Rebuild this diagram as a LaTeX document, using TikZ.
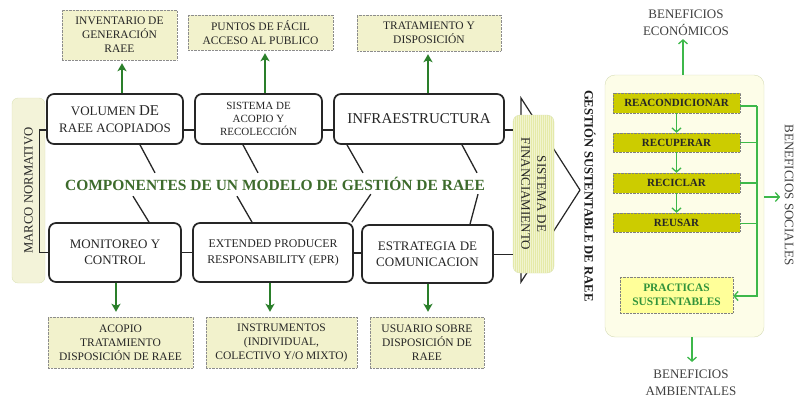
\documentclass[tikz,border=0pt]{standalone}
\usepackage{fontspec}
\setmainfont{Liberation Serif}
\usetikzlibrary{arrows.meta,calc}
\definecolor{ybox}{HTML}{F2F2CC}
\definecolor{txt}{HTML}{262626}
\definecolor{dgreen}{HTML}{2A7F2A}
\definecolor{tgreen}{HTML}{3D6B2C}
\definecolor{lgreen}{HTML}{3DB84A}
\definecolor{oliv}{HTML}{CCCC00}
\definecolor{pyel}{HTML}{FFFF99}
\definecolor{marco}{HTML}{F3F3D9}
\definecolor{marcob}{HTML}{DCE3B8}
\definecolor{fin}{HTML}{E5EAA8}
\definecolor{rbox}{HTML}{FDFDE8}
\definecolor{rboxb}{HTML}{D5DBB5}
\begin{document}
\begin{tikzpicture}[x=1pt,y=-1pt]
\tikzset{
 topbox/.style={draw=black!45, densely dotted, fill=ybox, align=center, inner sep=0pt, text=txt, font=\fontsize{11.5}{14}\selectfont},
 mainbox/.style={draw=black!85, line width=1.7pt, rounded corners=7pt, fill=white, align=center, inner sep=0pt, text=txt},
 garrow/.style={draw=dgreen, line width=1.8pt, -{Stealth[length=8pt,width=9pt,inset=2pt]}},
 larrow/.style={draw=lgreen, line width=1.3pt, -{Straight Barb[length=4pt,width=9pt]}},
 link/.style={draw=black!85, line width=1.3pt},
 olivebox/.style={draw=black!50, densely dotted, fill=oliv, font=\bfseries\fontsize{11}{12}\selectfont, text=black!85, inner sep=0pt, minimum width=127, minimum height=20},
 benef/.style={align=center, text=black!75, font=\fontsize{13}{17}\selectfont, inner sep=0pt},
}
\useasboundingbox (0,0) rectangle (797,400);

% chevron behind financing box
\draw[link, line width=1.2pt] (521,98) coordinate (c1) -- (580,190) coordinate (c2) -- (521,282) coordinate (c3) -- cycle;

% right big box
\node[draw=rboxb, fill=rbox, rounded corners=10pt, minimum width=159, minimum height=262, inner sep=0pt] (RB) at (684.5,206) {};

% top boxes
\node[topbox, minimum width=115, minimum height=50] (T1) at (119.5,35) {INVENTARIO DE\\GENERACIÓN\\RAEE};
\node[topbox, minimum width=145, minimum height=35] (T2) at (260.5,32.5) {PUNTOS DE FÁCIL\\ACCESO AL PUBLICO};
\node[topbox, minimum width=144, minimum height=36] (T3) at (429,33) {TRATAMIENTO Y\\DISPOSICIÓN};

% bottom boxes
\node[topbox, minimum width=145, minimum height=51] (G) at (120.5,342.5) {ACOPIO\\TRATAMIENTO\\DISPOSICIÓN DE RAEE};
\node[topbox, minimum width=151, minimum height=51] (H) at (281.5,342.5) {INSTRUMENTOS\\(INDIVIDUAL,\\COLECTIVO Y/O MIXTO)};
\node[topbox, minimum width=114, minimum height=51] (I) at (427,342.5) {USUARIO SOBRE\\DISPOSICIÓN DE\\RAEE};

% main boxes
\node[mainbox, minimum width=136, minimum height=50, font=\fontsize{13}{16.5}\selectfont] (A) at (115,119) {VOLUMEN {\fontsize{15}{15}\selectfont DE}\\RAEE ACOPIADOS};
\node[mainbox, minimum width=127, minimum height=50, font=\fontsize{11}{13}\selectfont] (B) at (258.5,119) {SISTEMA DE\\ACOPIO Y\\RECOLECCIÓN};
\node[mainbox, minimum width=170, minimum height=50, font=\fontsize{15}{17}\selectfont] (C) at (419,119) {INFRAESTRUCTURA};
\node[mainbox, minimum width=132, minimum height=59, font=\fontsize{13}{16}\selectfont] (D) at (115,252.5) {MONITOREO Y\\CONTROL};
\node[mainbox, minimum width=160, minimum height=59, font=\fontsize{11.8}{16}\selectfont] (E) at (273,252.5) {EXTENDED PRODUCER\\RESPONSABILITY (EPR)};
\node[mainbox, minimum width=131, minimum height=58, font=\fontsize{13}{16}\selectfont] (F) at (427.5,254) {ESTRATEGIA DE\\COMUNICACION};

% marco normativo
\node[draw=marcob, fill=marco, rounded corners=6pt, minimum width=33, minimum height=185, inner sep=0pt] (M) at (28.5,190.5) {};
\node[rotate=90, text=txt, font=\fontsize{12.7}{14}\selectfont, inner sep=0pt] (MT) at (M.center) {MARCO NORMATIVO};

% financing box
\node[draw=marcob, fill=fin, rounded corners=7pt, minimum width=41, minimum height=158, inner sep=0pt,
  path picture={\foreach \i in {1,3,...,41} \draw[fin!55!white, line width=0.6pt] ([xshift=\i pt]path picture bounding box.south west) -- ([xshift=\i pt]path picture bounding box.north west);}] (FIN) at (533.5,194) {};
\node[rotate=-90, align=center, text=txt, font=\fontsize{13}{16}\selectfont, inner sep=0pt] (FT) at (FIN.center) {SISTEMA DE\\FINANCIAMIENTO};

% title
\node[text=tgreen, font=\bfseries\fontsize{15.5}{17}\selectfont, inner sep=0pt] (TT) at (275,184) {COMPONENTES DE UN MODELO DE GESTIÓN DE RAEE};

% gestion sustentable
\node[rotate=-90, font=\bfseries\fontsize{12.7}{14}\selectfont, text=black!90, inner sep=0pt] (GS) at (590,196) {GESTIÓN SUSTENTABLE DE RAEE};

% connectors between main boxes
\draw[link] ([yshift=-11pt]A.east) -- ([yshift=-11pt]B.west);
\draw[link] ([yshift=-11pt]B.east) -- ([yshift=-11pt]C.west);
\draw[link] ([yshift=-11pt]C.east) -- ([yshift=-11pt]C.east -| FIN.west);
\draw[link] (D.east) -- (E.west);
\draw[link] ([yshift=-0.5pt]E.east) -- ([yshift=-0.5pt]E.east -| F.west);
\draw[link] ([yshift=-0.5pt]F.east) -- ([yshift=-0.5pt]F.east -| FIN.west);
\draw[link] ([yshift=-11pt]A.west) -- ++(-7,0) |- (D.west);

% fishbone lines
\draw[link] ([xshift=25pt]A.south) -- ++(15,28);
\draw[link] ([xshift=-15.5pt]B.south) -- ++(15,28);
\draw[link] ([xshift=-72pt]C.south) -- ++(16,28);
\draw[link] ([xshift=43pt]C.south) -- ++(15,28);
\draw[link] ([xshift=34pt]D.north) -- ++(-16,-26);
\draw[link] ([xshift=-21pt]E.north) -- ++(-15,-26);
\draw[link] (E.north east) ++(-2,0) -- ++(19,-28);
\draw[link] ([xshift=42.5pt]F.north) -- ++(8,-30);

% green arrows
\draw[garrow] ([xshift=7pt]A.north) -- ([xshift=7pt,yshift=-3pt]A.north |- T1.south);
\draw[garrow] ([xshift=6.5pt]B.north) -- ([xshift=6.5pt,yshift=-3pt]B.north |- T2.south);
\draw[garrow] ([xshift=9pt]C.north) -- ([xshift=9pt,yshift=-3pt]C.north |- T3.south);
\draw[garrow] ([xshift=1pt]D.south) -- ([xshift=1pt,yshift=5pt]D.south |- G.north);
\draw[garrow] ([xshift=-3pt]E.south) -- ([xshift=-3pt,yshift=5pt]E.south |- H.north);
\draw[garrow] ([xshift=0.5pt]F.south) -- ([xshift=0.5pt,yshift=5pt]F.south |- I.north);

% inner right boxes
\node[olivebox] (R1) at (676.5,103) {REACONDICIONAR};
\node[olivebox, minimum height=19] (R2) at (676.5,142.5) {RECUPERAR};
\node[olivebox] (R3) at (676.5,183) {RECICLAR};
\node[olivebox, minimum height=19] (R4) at (676.5,222.5) {REUSAR};
\node[draw=black!50, densely dotted, fill=pyel, minimum width=113, minimum height=36, inner sep=0pt, align=center, text=lgreen!80!black, font=\bfseries\fontsize{11.4}{14}\selectfont] (P) at (676.5,295) {PRACTICAS\\SUSTENTABLES};

\draw[larrow] (R1.south) -- (R2.north);
\draw[larrow] (R2.south) -- (R3.north);
\draw[larrow] (R3.south) -- (R4.north);

\coordinate (bus) at (757,0);
\draw[lgreen, line width=1.3pt] ([yshift=-3pt]R1.east) -- ([yshift=-3pt]R1.east -| bus);
\draw[lgreen, line width=1.3pt] (R2.east) -- (R2.east -| bus);
\draw[lgreen, line width=1.3pt] (R3.east) -- (R3.east -| bus);
\draw[lgreen, line width=1.3pt] ([yshift=-1pt]R4.east) -- ([yshift=-1pt]R4.east -| bus);
\draw[larrow] ([yshift=-3pt]R1.east -| bus) -- ([yshift=-1pt]P.east -| bus) -- ([yshift=-1pt]P.east);

% benefits
\node[benef] (BE) at (686,23) {BENEFICIOS\\ECONÓMICOS};
\node[benef] (BA) at (691,383) {BENEFICIOS\\AMBIENTALES};
\node[benef, rotate=-90] (BS) at (789,195) {BENEFICIOS SOCIALES};
\draw[larrow] ([xshift=-1.5pt]RB.north) -- ([xshift=-1.5pt,yshift=-3pt]RB.north |- BE.south);
\draw[larrow] ([xshift=7.5pt]RB.south) -- ([xshift=7.5pt,yshift=8pt]RB.south |- BA.north);
\draw[larrow] ([yshift=9pt]RB.east) -- ++(16,0);
\end{tikzpicture}
\end{document}
